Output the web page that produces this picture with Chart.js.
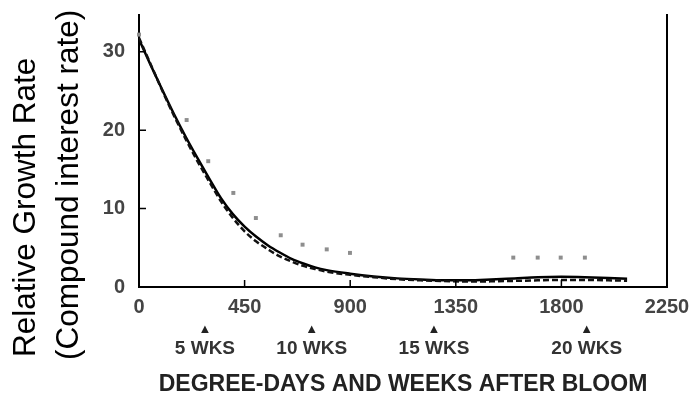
<!DOCTYPE html>
<html>
<head>
<meta charset="utf-8">
<script src="https://cdn.jsdelivr.net/npm/chart.js@4.4.1/dist/chart.umd.min.js"></script>
<style>
  body { margin: 0; background: #fff; }
  #wrap { width: 694px; height: 396px; }
</style>
</head>
<body>
<div id="wrap"><canvas id="myChart" width="694" height="396"></canvas></div>
<script>
// degree-days along the fitted curves
const curveX = [0, 50, 100, 150, 200, 250, 300, 350, 400, 450, 500, 550, 600, 650, 700, 750, 800,
  900, 1000, 1100, 1200, 1300, 1400, 1500, 1600, 1700, 1800, 1900, 2000, 2080];
// solid model curve
const solidY = [31.6, 28.3, 25.1, 22.0, 19.1, 16.4, 13.8, 11.3, 9.3, 7.7, 6.4, 5.3, 4.4, 3.6, 3.0, 2.5, 2.15,
  1.7, 1.35, 1.1, 0.95, 0.85, 0.85, 0.95, 1.1, 1.25, 1.3, 1.25, 1.15, 1.05];
// dashed model curve
const dashedY = [31.8, 28.4, 25.0, 21.8, 18.8, 16.0, 13.4, 10.9, 8.8, 7.1, 5.8, 4.8, 3.9, 3.25, 2.7, 2.3, 1.95,
  1.55, 1.25, 1.0, 0.85, 0.75, 0.7, 0.72, 0.78, 0.85, 0.9, 0.9, 0.85, 0.8];
// observed values
const obsX = [0, 203, 295, 402, 498, 604, 697, 800, 899, 1595, 1699, 1797, 1900];
const obsY = [32.2, 21.3, 16.05, 12.0, 8.8, 6.6, 5.4, 4.8, 4.35, 3.75, 3.75, 3.75, 3.75];

const xTicks = [0, 450, 900, 1350, 1800, 2250];
const yTicks = [0, 10, 20, 30];
const weekX = [281, 736, 1257, 1908];
const weekLabels = ['5 WKS', '10 WKS', '15 WKS', '20 WKS'];
const yTitleLines = ['Relative Growth Rate', '(Compound interest rate)'];
const xTitle = 'DEGREE-DAYS AND WEEKS AFTER BLOOM';

Chart.defaults.font.family = '"Liberation Sans", Arial, sans-serif';

const toPts = (xs, ys) => xs.map((x, i) => ({x: x, y: ys[i]}));

// rotated two-line y title, starts below the plot like the original
const yTitlePlugin = {
  id: 'yTitle',
  afterDraw(chart) {
    const ctx = chart.ctx;
    const xs = [35, 78];
    const ys = [357, 360];
    ctx.save();
    ctx.fillStyle = '#000';
    ctx.font = '31.5px "Liberation Sans", Arial, sans-serif';
    ctx.textAlign = 'left';
    ctx.textBaseline = 'alphabetic';
    yTitleLines.forEach((line, i) => {
      ctx.save();
      ctx.translate(xs[i], ys[i]);
      ctx.rotate(-Math.PI / 2);
      ctx.fillText(line, 0, 0);
      ctx.restore();
    });
    ctx.restore();
  }
};

// short tick marks pointing into the plot
const innerTicks = {
  id: 'innerTicks',
  afterDatasetsDraw(chart) {
    const {ctx, chartArea, scales} = chart;
    const len = 7;
    ctx.save();
    ctx.strokeStyle = '#000';
    ctx.lineWidth = 1.5;
    ctx.beginPath();
    xTicks.forEach(v => {
      const px = scales.x.getPixelForValue(v);
      ctx.moveTo(px, chartArea.bottom);
      ctx.lineTo(px, chartArea.bottom - len);
    });
    yTicks.forEach(v => {
      const py = scales.y.getPixelForValue(v);
      ctx.moveTo(chartArea.left, py);
      ctx.lineTo(chartArea.left + len, py);
    });
    ctx.stroke();
    ctx.restore();
  }
};

const noPad = (s) => { s.paddingLeft = 0; s.paddingRight = 0; s.paddingTop = 0; s.paddingBottom = 0; };

const ctx = document.getElementById('myChart').getContext('2d');

const myChart = new Chart(ctx, {
  type: 'scatter',
  data: {
    datasets: [
      {
        label: 'observed',
        data: toPts(obsX, obsY),
        pointStyle: 'rect',
        pointRadius: 2.8,
        backgroundColor: '#8e8e8e',
        borderColor: '#8e8e8e',
        borderWidth: 0,
        clip: false
      },
      {
        label: 'dashed',
        data: toPts(curveX, dashedY),
        showLine: true,
        borderColor: '#111',
        borderWidth: 2.5,
        borderDash: [6, 3],
        pointRadius: 0,
        cubicInterpolationMode: 'monotone'
      },
      {
        label: 'solid',
        data: toPts(curveX, solidY),
        showLine: true,
        borderColor: '#000',
        borderWidth: 2.5,
        pointRadius: 0,
        cubicInterpolationMode: 'monotone'
      }
    ]
  },
  options: {
    responsive: false,
    animation: false,
    layout: { padding: { top: 15, right: 27, left: 0, bottom: 0 } },
    plugins: { legend: { display: false }, tooltip: { enabled: false } },
    scales: {
      x: {
        type: 'linear', min: 0, max: 2250, weight: 0,
        afterBuildTicks: (s) => { s.ticks = xTicks.map(v => ({value: v})); },
        afterFit: (s) => { s.height = 30; noPad(s); },
        grid: { display: false, drawTicks: false },
        border: { display: true, color: '#000', width: 2 },
        ticks: { autoSkip: false, maxRotation: 0, padding: 8, color: '#444',
          callback: (v) => String(v), font: { size: 20, weight: 'bold' } }
      },
      xw: {
        type: 'linear', position: 'bottom', min: 0, max: 2250, weight: 1,
        afterBuildTicks: (s) => { s.ticks = weekX.map(v => ({value: v})); },
        afterFit: (s) => { s.height = 20; noPad(s); },
        grid: { display: false, drawTicks: false },
        border: { display: false },
        ticks: { autoSkip: false, maxRotation: 0, padding: 4.2, color: '#222',
          callback: () => '▲', font: { size: 13 } }
      },
      xl: {
        type: 'linear', position: 'bottom', min: 0, max: 2250, weight: 2,
        afterBuildTicks: (s) => { s.ticks = weekX.map(v => ({value: v})); },
        afterFit: (s) => { s.height = 59; noPad(s); },
        grid: { display: false, drawTicks: false },
        border: { display: false },
        ticks: { autoSkip: false, maxRotation: 0, padding: 2.5, color: '#333',
          callback: (v, i) => weekLabels[i], font: { size: 19, weight: 'bold', lineHeight: 1 } },
        title: { display: true, text: xTitle, color: '#222', padding: 0,
          font: { size: 23, weight: 'bold', lineHeight: 1 } }
      },
      y: {
        type: 'linear', min: 0, max: 34.7,
        afterBuildTicks: (s) => { s.ticks = yTicks.map(v => ({value: v})); },
        afterFit: (s) => { s.width = 139; noPad(s); },
        grid: { display: false, drawTicks: false },
        border: { display: true, color: '#000', width: 2 },
        ticks: { padding: 14, color: '#444', font: { size: 20, weight: 'bold' } }
      },
      yR: {
        type: 'linear', position: 'right', min: 0, max: 34.7,
        afterFit: (s) => { s.width = 0; noPad(s); },
        grid: { display: false, drawTicks: false },
        border: { display: true, color: '#000', width: 2 },
        ticks: { display: false }
      }
    }
  },
  plugins: [yTitlePlugin, innerTicks]
});
</script>
</body>
</html>
